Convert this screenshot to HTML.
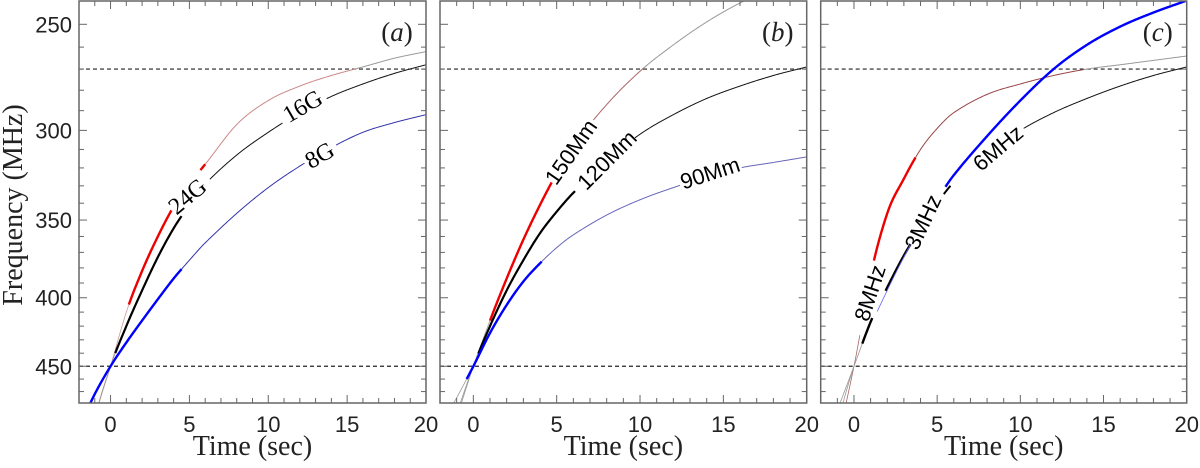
<!DOCTYPE html>
<html><head><meta charset="utf-8"><style>
html,body{margin:0;padding:0;background:#fff;overflow:hidden;width:1200px;height:468px}
svg{display:block}
</style></head><body>
<svg id="chart" width="1200" height="468" viewBox="0 0 1200 468" xmlns="http://www.w3.org/2000/svg"></svg>
<script>
// ---- data ----
const times = [-2,-1,0,1,2,3,4,5,6,8,10,12,14,16,18,20];
const yTicks = [250,300,350,400,450];
const xTicks = [0,5,10,15,20];
const refLines = [270,450];
const panelLabels = ['a','b','c'];
// panel a
const a24G = [570,494,450,410,382,360,342,329,318,297,285,278,273,269,265,262];
const a16G = [560,492,450,420,395,373,355,341,329,313,301,291,283,277,272,268];
const a8G  = [500,472,450,432,416,401,387,375,364,346,331,319,309,301,296,292];
// panel b
const b150 = [540,492,450,416,387,362,341,323,308,287,271,259,249,241,235,229];
const b120 = [530,488,450,420,395,375,358,345,334,316,302,292,284,278,273,269];
const b90  = [500,475,450,425,405,389,377,367,359,347,338,331,325,320,317,314];
// panel c
const c8   = [560,510,450,385,346,326,310,299,291,282,277,273,270,268,266,264];
const c3   = [520,485,450,417,393,372,355,340,328,312,300,291,284,278,273,269];
const c6   = [540,495,450,420,395,373,354,338,324,303,285,270,259,251,245,240];

const NS='http://www.w3.org/2000/svg';
const svg=document.getElementById('chart');
const SANS='"Liberation Sans", sans-serif', SERIF='"Liberation Serif", serif';
function mk(tag,attrs,parent){const e=document.createElementNS(NS,tag);for(const k in attrs)e.setAttribute(k,attrs[k]);(parent||svg).appendChild(e);return e;}

const Y0=24.3, K=581.8, TOP=1, BOT=403;
function yS(f){return Y0+K*Math.log(f/250);}
const panels=[{l:79,r:426},{l:440,r:806.7},{l:820.7,r:1186.7}];
function xS(p,t){return p.l+(t+2)/22*(p.r-p.l);}

function interp(vals,t){
  let i=0; while(i<times.length-2 && t>times[i+1]) i++;
  const n=times.length-1;
  const p0=vals[Math.max(i-1,0)],p1=vals[i],p2=vals[i+1],p3=vals[Math.min(i+2,n)];
  const t0=times[Math.max(i-1,0)],t1=times[i],t2=times[i+1],t3=times[Math.min(i+2,n)];
  const m1=(p2-p0)/((t2-t0)||1), m2=(p3-p1)/((t3-t1)||1);
  const h=t2-t1, s=(t-t1)/h;
  const h00=2*s*s*s-3*s*s+1,h10=s*s*s-2*s*s+s,h01=-2*s*s*s+3*s*s,h11=s*s*s-s*s;
  return h00*p1+h10*h*m1+h01*p2+h11*h*m2;
}

panels.forEach((p,pi)=>{
  const g=mk('g',{});
  
  
  p.g=g;
  const cid='clip'+pi;
  const cp=mk('clipPath',{id:cid},g);
  mk('rect',{x:p.l,y:TOP,width:p.r-p.l,height:BOT-TOP},cp);
  p.cg=mk('g',{'clip-path':'url(#'+cid+')'},g);
  refLines.forEach(f=>{
    const ln=mk('line',{x1:p.l,x2:p.r,y1:yS(f),y2:yS(f),stroke:'#222','stroke-width':1.2,'stroke-dasharray':'4,3'},p.cg);
    
    
  });
  for(let f=240;f<=470;f+=10){const y=yS(f);if(y<TOP||y>BOT)continue;const L=(f%50===0)?8:5;
    mk('line',{x1:p.l,x2:p.l+L,y1:y,y2:y,stroke:'#666','stroke-width':1},g);
    mk('line',{x1:p.r,x2:p.r-L,y1:y,y2:y,stroke:'#666','stroke-width':1},g);}
  for(let t=-2;t<=20;t++){const x=xS(p,t);const L=(t%5===0)?8:5;
    mk('line',{x1:x,x2:x,y1:BOT,y2:BOT-L,stroke:'#666','stroke-width':1},g);
    mk('line',{x1:x,x2:x,y1:TOP,y2:TOP+L,stroke:'#666','stroke-width':1},g);}
  xTicks.forEach(t=>{const tx=mk('text',{x:xS(p,t),y:432,'font-size':22,'text-anchor':'middle',fill:'#222','font-family':SANS},g);tx.textContent=t;
    });
  const xt=mk('text',{x:(p.l+p.r)/2,y:455,'font-size':28,'text-anchor':'middle',fill:'#222','font-family':SERIF},g);
  xt.textContent='Time (sec)';
  
  const pl=mk('text',{x:p.r-29,y:41,'font-size':27,'text-anchor':'middle',fill:'#222','font-family':SERIF},g);
  pl.appendChild(document.createTextNode('('));
  const it=mk('tspan',{'font-style':'italic'},pl); it.textContent=panelLabels[pi];
  pl.appendChild(document.createTextNode(')'));
  
});

yTicks.forEach(f=>{const tx=mk('text',{x:72,y:yS(f)+8,'font-size':22,'text-anchor':'end',fill:'#222','font-family':SANS});tx.textContent=f;
  });
const yt=mk('text',{x:0,y:0,'font-size':28,'text-anchor':'middle',fill:'#222','font-family':SERIF,transform:'translate(22,205) rotate(-90)'});
yt.textContent='Frequency (MHz)';


function seg(pi,vals,t0,t1,color,w,name){
  const p=panels[pi];let d='';
  for(let t=t0;t<=t1+1e-9;t+=0.05){d+=(d?'L':'M')+xS(p,t).toFixed(2)+','+yS(interp(vals,t)).toFixed(2);}
  const e=mk('path',{d:d,fill:'none',stroke:color,'stroke-width':w},p.cg);
  
  
}
const GR='#999',BR='#a66',NV='#33a';
// panel a
seg(0,a24G,-2,1.16,'#c99',0.8,'curve-24g');
seg(0,a24G,1.16,3.9,'#e00',2.4,'curve-24g-thick');
seg(0,a24G,5.7,6.0,'#e00',2.4,'curve-24g-thick');
seg(0,a24G,6.0,15.5,'#c88',1,'curve-24g');
seg(0,a24G,15.5,20,GR,1,'curve-24g');
seg(0,a16G,-2,0.3,GR,0.8,'curve-16g');
seg(0,a16G,0.3,4.5,'#000',2.2,'curve-16g-thick');
seg(0,a16G,6.3,10.9,'#111',1,'curve-16g');
seg(0,a16G,13.7,20,'#111',1,'curve-16g');
seg(0,a8G,-2,4.5,'#00f',2.4,'curve-8g-thick');
seg(0,a8G,4.5,12.3,NV,1,'curve-8g');
seg(0,a8G,14.3,20,NV,1,'curve-8g');
// panel b
seg(1,b150,-2,1,GR,0.8,'curve-150mm');
seg(1,b150,1,4.7,'#e00',2.4,'curve-150mm-thick');
seg(1,b150,7.2,10.2,BR,1,'curve-150mm');
seg(1,b150,10.2,20,GR,1,'curve-150mm');
seg(1,b120,-2,0.3,GR,0.8,'curve-120mm');
seg(1,b120,0.3,6.1,'#000',2.2,'curve-120mm-thick');
seg(1,b120,9.7,20,'#111',1,'curve-120mm');
seg(1,b90,-2,-0.4,GR,0.8,'curve-90mm');
seg(1,b90,-0.4,4.1,'#00f',2.4,'curve-90mm-thick');
seg(1,b90,4.1,12.4,'#66b',1,'curve-90mm');
seg(1,b90,16.1,20,'#66b',1,'curve-90mm');
// panel c
seg(2,c8,-2,0.35,BR,0.8,'curve-8mhz');
seg(2,c8,1.2,3.7,'#e00',2.4,'curve-8mhz-thick');
seg(2,c8,3.7,13.8,'#944',1,'curve-8mhz');
seg(2,c8,13.8,20,GR,1,'curve-8mhz');
seg(2,c3,-2,0.5,GR,0.8,'curve-3mhz');
seg(2,c3,0.5,1.1,'#000',2.4,'curve-3mhz-thick');
seg(2,c3,1.9,3.4,'#000',2.4,'curve-3mhz-thick');
seg(2,c3,5.4,5.8,'#000',2,'curve-3mhz');
seg(2,c3,10.2,20,'#111',1,'curve-3mhz');
seg(2,c6,-2,0,GR,0.8,'curve-6mhz');
seg(2,c6,1.4,3.4,'#66f',0.8,'curve-6mhz');
seg(2,c6,5.5,20,'#00f',2.4,'curve-6mhz-thick');

function lab(txt,x,y,rot,serif,name){
  const e=mk('text',{x:0,y:0,'font-size':serif?24:22,'text-anchor':'middle','dominant-baseline':'central',fill:'#000','font-family':serif?SERIF:SANS,transform:'translate('+x+','+y+') rotate('+rot+')'});
  e.textContent=txt;
  
  
}
lab('24G',188,197,-40,true,'label-24g');
lab('16G',303,107,-30,true,'label-16g');
lab('8G',320,156,-30,true,'label-8g');
lab('150Mm',571,152,-55,false,'label-150mm');
lab('120Mm',607,160,-45,false,'label-120mm');
lab('90Mm',710,173,-18,false,'label-90mm');
lab('8MHz',870,293,-72,false,'label-8mhz');
lab('3MHz',923,222,-65,false,'label-3mhz');
lab('6MHz',998,148,-40,false,'label-6mhz');

panels.forEach((p,pi)=>{const f=mk('rect',{x:p.l,y:TOP,width:p.r-p.l,height:BOT-TOP,fill:'none',stroke:'#666','stroke-width':1.5},p.g);
  });
</script>
</body></html>
